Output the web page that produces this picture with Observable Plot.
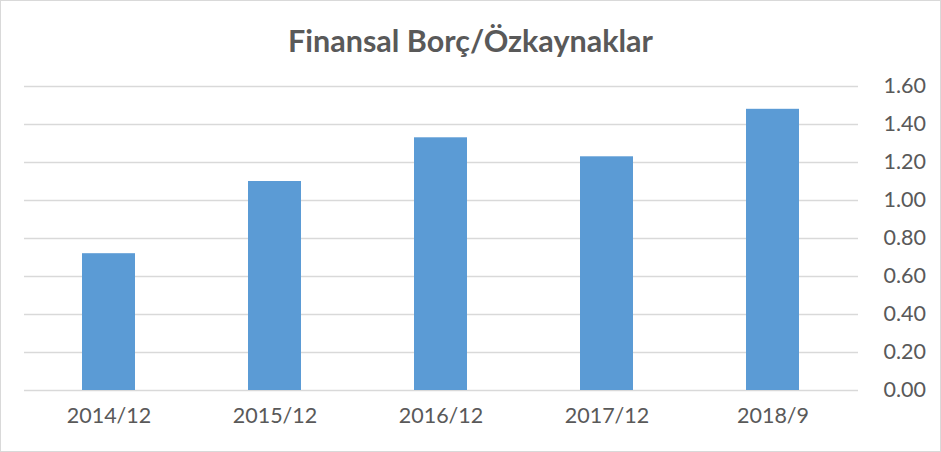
<!DOCTYPE html>
<html>
<head>
<meta charset="utf-8">
<script src="https://cdn.jsdelivr.net/npm/d3@7"></script>
<script src="https://cdn.jsdelivr.net/npm/@observablehq/plot@0.6"></script>
<style>
  body { margin: 0; background: #fff; }
  #frame {
    width: 941px; height: 452px; box-sizing: border-box;
    border: 1px solid #d9d9d9; background: #fff; overflow: hidden;
  }
  #title {
    height: 69px; line-height: 78px; text-align: center;
    font-family: Lato, sans-serif; font-weight: bold; font-size: 30.5px; color: #595959;
  }
</style>
</head>
<body>
<div id="frame">
  <div id="title">Finansal Borç/Özkaynaklar</div>
  <div id="chart"></div>
</div>
<script>
const periods = ["2014/12", "2015/12", "2016/12", "2017/12", "2018/9"];
const ratios = [0.72, 1.10, 1.33, 1.23, 1.48];
const yTicks = [0, 0.2, 0.4, 0.6, 0.8, 1.0, 1.2, 1.4, 1.6];

const data = periods.map((p, i) => ({period: p, value: ratios[i]}));

let chart = Plot.plot({
  width: 939,
  height: 380,
  marginLeft: 23,
  marginRight: 82,
  marginTop: 16,
  marginBottom: 60,
  style: {fontFamily: "Lato, sans-serif", fontSize: "21.5px", color: "#595959", background: "#fff"},
  x: {domain: periods, paddingInner: 0.68, paddingOuter: 0.34, label: null},
  y: {domain: [0, 1.6], label: null},
  marks: [
    Plot.ruleY(yTicks, {stroke: "#d9d9d9", strokeWidth: 1.4}),
    Plot.barY(data, {x: "period", y: "value", fill: "#5B9BD5"}),
    Plot.axisY(yTicks, {anchor: "right", tickSize: 0, tickPadding: 25, tickFormat: d3.format(".2f"), fill: "#595959"}),
    Plot.axisX({tickSize: 0, tickPadding: 17, fill: "#595959"})
  ]
});

d3.select("#chart").append(() => chart);
</script>
</body>
</html>
